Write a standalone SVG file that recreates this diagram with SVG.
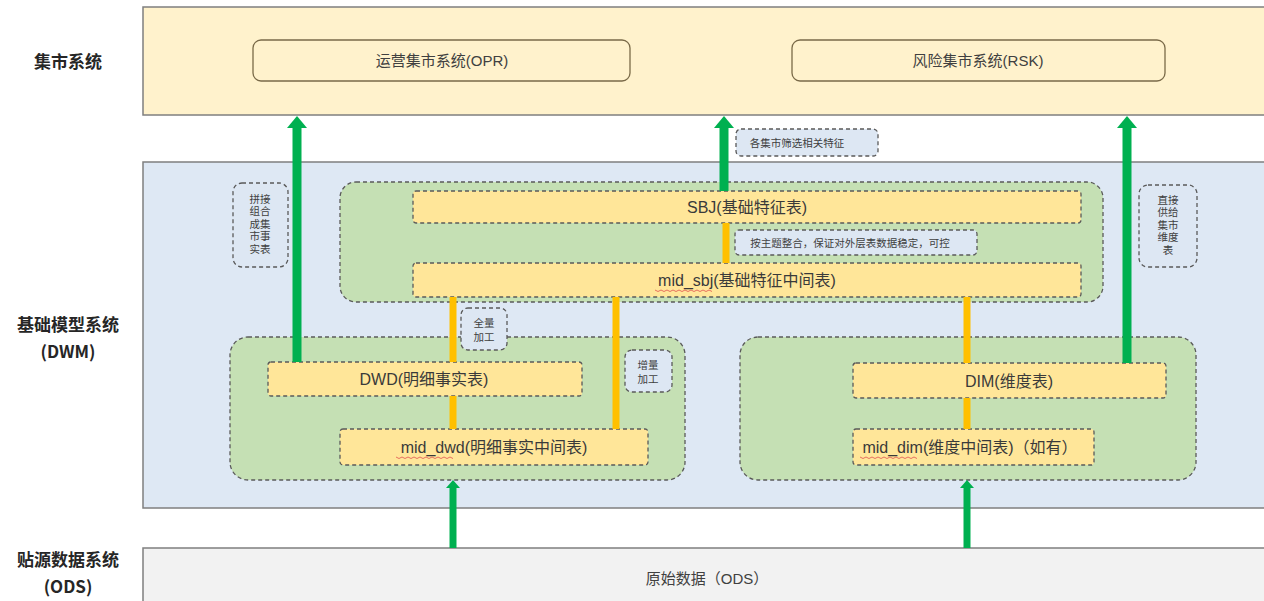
<svg xmlns="http://www.w3.org/2000/svg" width="1264" height="601" viewBox="0 0 1264 601">
  <defs>
    <marker id="gh" markerUnits="userSpaceOnUse" viewBox="0 0 12 20" markerWidth="12" markerHeight="20" refX="2" refY="10" orient="auto">
      <path d="M0,0 L12,10 L0,20 Z" fill="#00b050"/>
    </marker>
    <marker id="ghs" markerUnits="userSpaceOnUse" viewBox="0 0 8 14" markerWidth="8" markerHeight="14" refX="2" refY="7" orient="auto">
      <path d="M0,0 L8,7 L0,14 Z" fill="#00b050"/>
    </marker>
    <style>
      .band { stroke: #7f7f7f; stroke-width: 1.5; }
      .sys { fill: #fff2cc; stroke: #7a6a48; stroke-width: 1.3; }
      .grp { fill: #c5e0b4; stroke: #5a5a5a; stroke-width: 1.3; stroke-dasharray: 4 3; }
      .tbl { fill: #ffe699; stroke: #5a5a5a; stroke-width: 1.3; stroke-dasharray: 4 3; }
      .note { fill: #dde7f3; stroke: #5a5a5a; stroke-width: 1.3; stroke-dasharray: 4 3; }
      .lbl { font-family: "Noto Sans CJK SC", "Liberation Sans", sans-serif; font-weight: bold; font-size: 17px; fill: #262626; text-anchor: middle; dominant-baseline: central; }
      .t { font-family: "Liberation Sans", "Noto Sans CJK SC", sans-serif; font-size: 15px; fill: #404040; text-anchor: middle; dominant-baseline: central; }
      .tb { font-family: "Liberation Sans", "Noto Sans CJK SC", sans-serif; font-size: 16px; fill: #3a3a3a; text-anchor: middle; dominant-baseline: central; }
      .s { font-family: "Noto Sans CJK SC", sans-serif; font-size: 10.5px; fill: #404040; text-anchor: middle; dominant-baseline: central; }
      .g { stroke: #00b050; stroke-width: 9; fill: none; }
      .gs { stroke: #00b050; stroke-width: 7; fill: none; }
      .o { stroke: #ffc000; stroke-width: 7; fill: none; }
      .sq { stroke: #e05050; stroke-width: 0.8; fill: none; }
    </style>
  </defs>

  <rect width="1264" height="601" fill="#ffffff"/>

  <!-- layer labels -->
  <g id="labels">
    <text class="lbl" x="68" y="60">集市系统</text>
    <text class="lbl" x="68" y="323">基础模型系统</text>
    <text class="lbl" x="68" y="350">(DWM)</text>
    <text class="lbl" x="68" y="558">贴源数据系统</text>
    <text class="lbl" x="68" y="585">(ODS)</text>
  </g>

  <!-- bands -->
  <g id="band-mart"><rect class="band" x="143" y="7" width="1130" height="108" fill="#fff2cc"/></g>
  <g id="band-dwm"><rect class="band" x="143" y="162" width="1130" height="346" fill="#dee8f4"/></g>
  <g id="band-ods">
    <rect class="band" x="143" y="548" width="1130" height="60" fill="#f2f2f2"/>
    <text class="t" x="707" y="578">原始数据（ODS）</text>
  </g>

  <!-- mart systems -->
  <g id="opr">
    <rect class="sys" x="253" y="40" width="377" height="41" rx="8"/>
    <text class="t" x="442" y="60">运营集市系统(OPR)</text>
  </g>
  <g id="rsk">
    <rect class="sys" x="792" y="40" width="373" height="41" rx="8"/>
    <text class="t" x="978" y="60">风险集市系统(RSK)</text>
  </g>

  <!-- groups -->
  <g id="grp-sbj"><rect class="grp" x="340" y="182" width="763" height="120" rx="16"/></g>
  <g id="grp-dwd"><rect class="grp" x="230" y="337" width="455" height="143" rx="18"/></g>
  <g id="grp-dim"><rect class="grp" x="740" y="337" width="456" height="143" rx="18"/></g>

  <!-- tables -->
  <g id="sbj">
    <rect class="tbl" x="413" y="191" width="668" height="32" rx="3"/>
    <text class="tb" x="747" y="207">SBJ(基础特征表)</text>
  </g>
  <g id="mid-sbj">
    <rect class="tbl" x="413" y="263" width="668" height="34" rx="3"/>
    <text class="tb" x="747" y="280">mid_sbj(基础特征中间表)</text>
    <path class="sq" d="M655,290 l3,1.5 l3,-1.5 l3,1.5 l3,-1.5 l3,1.5 l3,-1.5 l3,1.5 l3,-1.5 l3,1.5 l3,-1.5 l3,1.5 l3,-1.5 l3,1.5 l3,-1.5 l3,1.5 l3,-1.5 l3,1.5 l3,-1.5 l3,1.5"/>
  </g>
  <g id="dwd">
    <rect class="tbl" x="268" y="362" width="314" height="34" rx="3"/>
    <text class="tb" x="424" y="379">DWD(明细事实表)</text>
  </g>
  <g id="mid-dwd">
    <rect class="tbl" x="340" y="429" width="308" height="36" rx="3"/>
    <text class="tb" x="494" y="447">mid_dwd(明细事实中间表)</text>
    <path class="sq" d="M396,457 l3,1.5 l3,-1.5 l3,1.5 l3,-1.5 l3,1.5 l3,-1.5 l3,1.5 l3,-1.5 l3,1.5 l3,-1.5 l3,1.5 l3,-1.5 l3,1.5 l3,-1.5 l3,1.5 l3,-1.5 l3,1.5 l3,-1.5 l3,1.5"/>
  </g>
  <g id="dim">
    <rect class="tbl" x="853" y="363" width="313" height="35" rx="3"/>
    <text class="tb" x="1009" y="381">DIM(维度表)</text>
  </g>
  <g id="mid-dim">
    <rect class="tbl" x="853" y="429" width="241" height="36" rx="3"/>
    <text class="tb" x="970" y="447">mid_dim(维度中间表)（如有）</text>
    <path class="sq" d="M860,457 l3,1.5 l3,-1.5 l3,1.5 l3,-1.5 l3,1.5 l3,-1.5 l3,1.5 l3,-1.5 l3,1.5 l3,-1.5 l3,1.5 l3,-1.5 l3,1.5 l3,-1.5 l3,1.5 l3,-1.5 l3,1.5 l3,-1.5 l3,1.5"/>
  </g>

  <!-- connectors -->
  <g id="connectors">
    <line class="g" x1="297" y1="362" x2="297" y2="126" marker-end="url(#gh)"/>
    <line class="g" x1="724" y1="191" x2="724" y2="126" marker-end="url(#gh)"/>
    <line class="g" x1="1127" y1="363" x2="1127" y2="126" marker-end="url(#gh)"/>
    <line class="gs" x1="453" y1="548" x2="453" y2="486" marker-end="url(#ghs)"/>
    <line class="gs" x1="967" y1="548" x2="967" y2="486" marker-end="url(#ghs)"/>
    <line class="o" x1="726" y1="223" x2="726" y2="263"/>
    <line class="o" x1="453" y1="297" x2="453" y2="362"/>
    <line class="o" x1="616" y1="297" x2="616" y2="429"/>
    <line class="o" x1="967" y1="297" x2="967" y2="363"/>
    <line class="o" x1="453" y1="396" x2="453" y2="429"/>
    <line class="o" x1="967" y1="398" x2="967" y2="429"/>
  </g>

  <!-- notes -->
  <g id="note-filter">
    <rect class="note" x="736" y="129" width="142" height="27" rx="5"/>
    <text class="s" x="797" y="142">各集市筛选相关特征</text>
  </g>
  <g id="note-integrate">
    <rect class="note" x="735" y="230" width="242" height="25" rx="4"/>
    <text class="s" x="850" y="242">按主题整合，保证对外层表数据稳定，可控</text>
  </g>
  <g id="note-full">
    <rect class="note" x="461" y="308" width="46" height="42" rx="7"/>
    <text class="s" x="484" y="322">全量</text>
    <text class="s" x="484" y="336">加工</text>
  </g>
  <g id="note-incr">
    <rect class="note" x="625" y="350" width="47" height="42" rx="7"/>
    <text class="s" x="648" y="364">增量</text>
    <text class="s" x="648" y="378">加工</text>
  </g>
  <g id="note-combine">
    <rect class="note" x="233" y="183" width="55" height="84" rx="9"/>
    <text class="s" x="260" y="198">拼接</text>
    <text class="s" x="260" y="210.5">组合</text>
    <text class="s" x="260" y="223">成集</text>
    <text class="s" x="260" y="235.5">市事</text>
    <text class="s" x="260" y="248">实表</text>
  </g>
  <g id="note-direct">
    <rect class="note" x="1139" y="185" width="58" height="82" rx="9"/>
    <text class="s" x="1168" y="199">直接</text>
    <text class="s" x="1168" y="211.5">供给</text>
    <text class="s" x="1168" y="224">集市</text>
    <text class="s" x="1168" y="236.5">维度</text>
    <text class="s" x="1168" y="249">表</text>
  </g>
</svg>
